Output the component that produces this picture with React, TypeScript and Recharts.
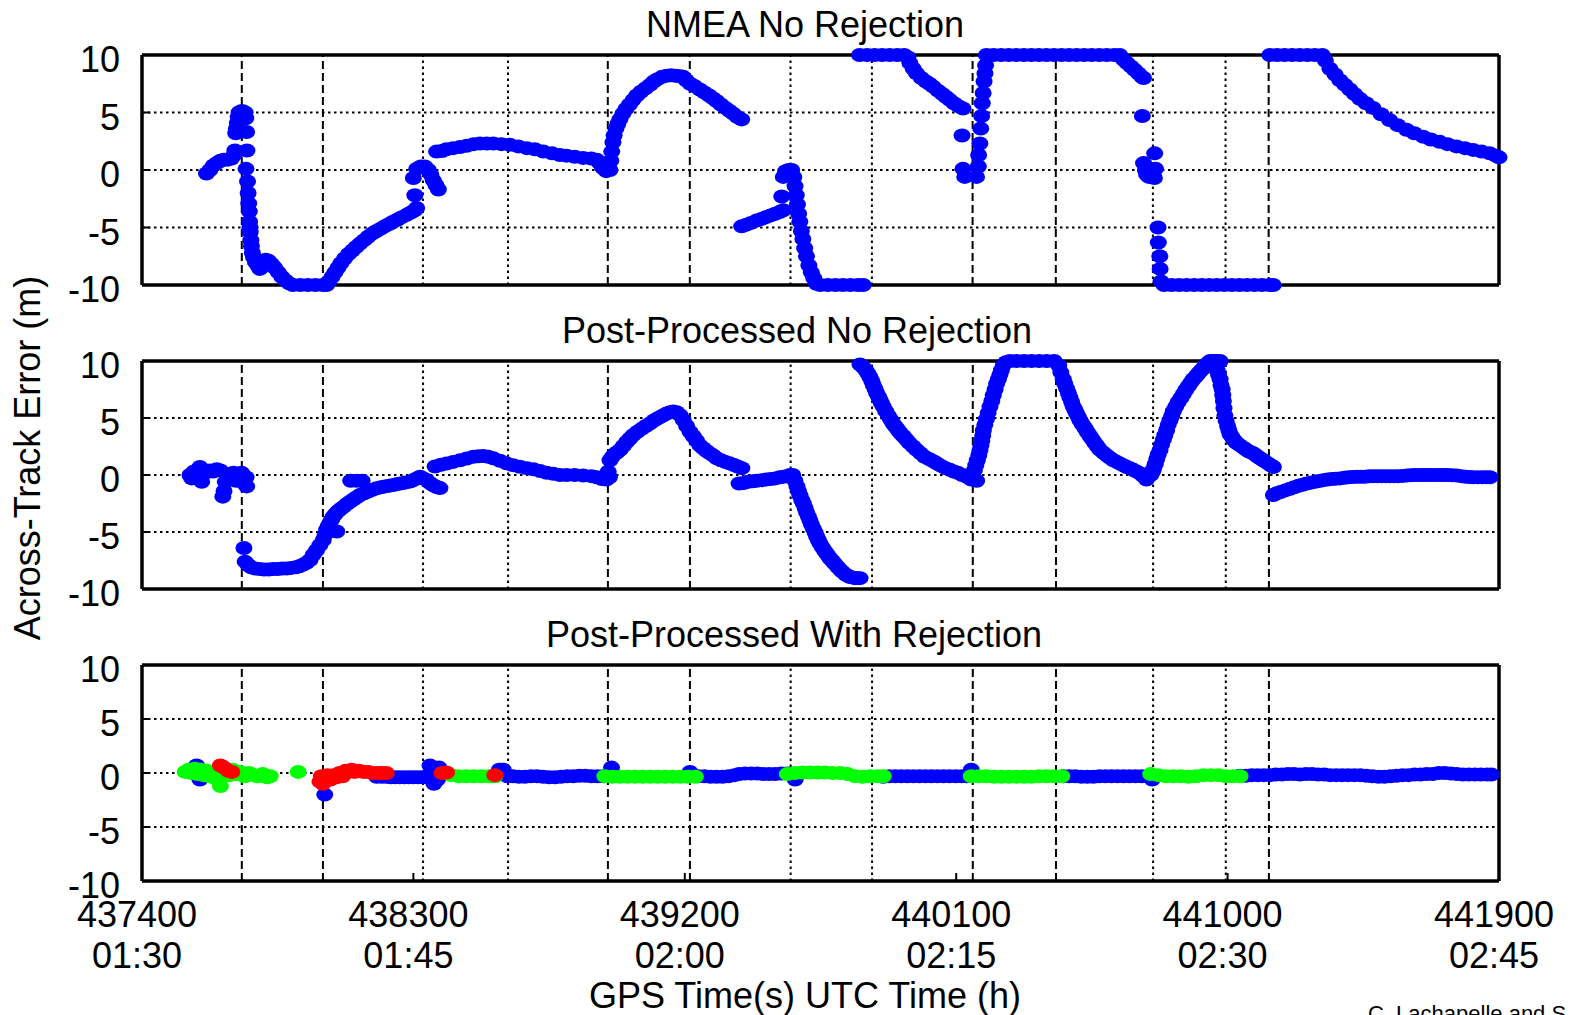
import React from "react";
import { ScatterChart, Scatter, XAxis, YAxis, CartesianGrid, ReferenceLine } from "recharts";

const FONT = "'Liberation Sans', Arial, Helvetica, sans-serif";

// x axis: GPS time of week (s) with UTC time underneath
const gpsTicks = [437400, 438300, 439200, 440100, 441000, 441900];
const utcLabels = ["01:30", "01:45", "02:00", "02:15", "02:30", "02:45"];
const errTicks = [-10, -5, 0, 5, 10];

// section boundaries (vertical lines on every panel)
const dashedMarks = [437731, 438000, 438945, 439217, 440155, 440431, 441137];
const dottedMarks = [438332, 438614, 439551, 439821, 440753, 440994];

type Pt = [number, number];

// NMEA No Rejection (blue)
const nmeaPts: Pt[] = [
  [437614,-0.3],[437625,0.0],[437637,0.4],[437648,0.6],[437660,0.8],[437672,0.9],[437685,0.9],[437697,1.0],[437705,1.3],[437708,1.7],
  [437711,3.2],[437713,3.6],[437716,4.1],[437719,4.6],[437722,5.0],[437728,5.1],[437735,5.1],[437742,5.0],[437744,4.5],[437747,3.3],
  [437748,1.7],[437745,0.1],[437750,-1.0],[437752,-2.0],[437754,-2.9],[437756,-3.6],[437757,-4.5],[437758,-5.0],[437759,-5.4],[437761,-6.1],
  [437763,-6.6],[437766,-7.2],[437770,-7.6],[437776,-8.0],[437784,-8.3],[437791,-8.6],[437800,-8.2],[437810,-7.8],[437820,-7.9],[437830,-8.2],
  [437840,-8.5],[437852,-8.9],[437864,-9.3],[437876,-9.6],[437888,-9.85],[437900,-10],[437925,-10],[437950,-10],[437975,-10],[438000,-10],
  [438012,-10],[438020,-9.7],[438030,-9.3],[438040,-8.9],[438050,-8.5],[438060,-8.1],[438072,-7.7],[438085,-7.3],[438098,-7.0],[438110,-6.7],
  [438123,-6.4],[438137,-6.1],[438150,-5.8],[438165,-5.5],[438178,-5.3],[438192,-5.1],[438205,-4.9],[438220,-4.7],[438233,-4.5],[438248,-4.3],
  [438262,-4.1],[438278,-3.9],[438292,-3.7],[438305,-3.5],[438311,-3.3],
  [438305,-2.2],[438300,-0.7],[438311,0.1],[438325,0.3],[438338,0.3],[438350,0.0],[438358,-0.4],[438366,-0.9],[438375,-1.3],[438383,-1.7],
  [438377,1.6],[438395,1.65],[438410,1.8],[438432,1.9],[438455,2.0],[438477,2.1],[438500,2.25],[438521,2.3],[438543,2.3],[438565,2.3],
  [438592,2.25],[438620,2.2],[438648,2.05],[438676,1.9],[438703,1.8],[438731,1.6],[438760,1.45],[438786,1.3],[438808,1.25],[438835,1.15],
  [438863,1.05],[438890,1.0],[438908,0.9],[438918,0.6],[438928,0.2],[438940,-0.1],[438952,0.0],
  [438955,0.8],[438958,1.6],[438962,2.4],[438966,3.0],[438972,3.6],[438978,4.0],[438985,4.4],[438995,4.9],[439005,5.3],[439017,5.7],
  [439029,6.1],[439042,6.5],[439055,6.8],[439070,7.1],[439085,7.4],[439098,7.7],[439110,7.9],[439125,8.1],[439140,8.2],[439155,8.25],
  [439170,8.2],[439185,8.15],[439195,8.1],[439205,7.8],[439218,7.5],[439232,7.3],[439250,7.0],[439265,6.75],[439280,6.5],[439293,6.25],
  [439306,6.0],[439320,5.7],[439335,5.4],[439348,5.15],[439361,4.9],[439375,4.6],[439389,4.4],
  [439389,-4.9],[439405,-4.75],[439420,-4.6],[439438,-4.4],[439455,-4.25],[439470,-4.1],[439485,-3.95],[439500,-3.8],[439515,-3.65],[439527,-3.5],
  [439522,-2.3],[439527,-0.6],[439535,-0.1],[439545,0.0],[439555,0.0],
  [439562,-0.6],[439566,-1.4],[439570,-2.2],[439574,-3.0],[439578,-3.8],[439582,-4.5],[439587,-5.3],[439592,-6.0],[439598,-6.8],[439604,-7.5],
  [439612,-8.3],[439620,-8.9],[439628,-9.4],[439637,-9.9],[439650,-10],[439675,-10],[439700,-10],[439725,-10],[439750,-10],[439775,-10],[439792,-10],
  [439780,10],[439805,10],[439830,10],[439855,10],[439880,10],[439905,10],[439928,10],[439940,9.8],
  [439947,9.3],[439958,8.8],[439969,8.4],[439985,8.0],[440000,7.7],[440012,7.5],[440024,7.25],[440040,6.9],[440055,6.6],[440067,6.35],
  [440079,6.1],[440093,5.8],[440108,5.55],[440123,5.35],
  [440120,3.0],[440123,0.1],[440129,-0.6],[440168,-0.6],[440174,0.3],[440175,1.3],[440179,2.3],[440182,3.6],[440185,4.7],[440187,5.8],
  [440190,6.7],[440193,7.7],[440196,8.4],[440198,9.1],[440201,10],
  [440225,10],[440250,10],[440275,10],[440300,10],[440325,10],[440350,10],[440375,10],[440400,10],[440425,10],[440450,10],
  [440475,10],[440500,10],[440525,10],[440550,10],[440575,10],[440600,10],[440625,10],[440643,10],
  [440655,9.6],[440667,9.3],[440680,9.0],[440693,8.7],[440705,8.4],[440716,8.1],[440722,8.0],
  [440718,4.7],[440722,0.6],[440728,0.0],[440732,-0.4],[440740,-0.6],[440759,1.45],[440762,0.1],[440758,-0.7],
  [440770,-5.0],[440771,-6.3],[440776,-7.5],[440777,-8.6],[440780,-9.7],
  [440790,-10],[440815,-10],[440840,-10],[440865,-10],[440890,-10],[440915,-10],[440940,-10],[440965,-10],[440990,-10],[441015,-10],
  [441040,-10],[441065,-10],[441090,-10],[441115,-10],[441140,-10],[441152,-10],
  [441141,10],[441165,10],[441190,10],[441215,10],[441240,10],[441265,10],[441290,10],[441315,10],
  [441325,9.5],[441340,8.8],[441357,8.3],[441373,7.8],[441390,7.4],[441406,7.0],[441422,6.6],[441439,6.2],[441460,5.8],[441483,5.4],
  [441510,4.85],[441538,4.35],[441565,3.9],[441594,3.5],[441620,3.2],[441649,2.9],[441675,2.65],[441704,2.45],[441730,2.25],[441760,2.05],
  [441788,1.9],[441815,1.75],[441843,1.6],[441870,1.45],[441890,1.25],[441901,1.1],
];

// Post-Processed No Rejection (blue)
const ppPts: Pt[] = [
  [437559,0.0],[437565,-0.3],[437572,0.3],[437580,-0.2],[437592,0.7],[437598,-0.6],[437605,0.1],[437615,0.3],[437625,0.4],[437636,0.3],
  [437648,0.5],[437660,0.4],[437668,-1.9],[437672,-1.4],[437676,-0.6],[437685,-0.2],[437695,0.1],[437703,0.2],[437712,-0.5],[437722,-0.2],
  [437730,0.2],[437738,-0.7],[437745,-0.2],[437747,-1.0],
  [437738,-6.4],
  [437742,-7.6],[437752,-7.9],[437762,-8.1],[437775,-8.2],[437790,-8.25],[437805,-8.3],[437820,-8.3],[437835,-8.25],[437850,-8.25],[437865,-8.2],
  [437880,-8.2],[437895,-8.15],[437910,-8.1],[437922,-8.0],[437935,-7.85],[437946,-7.7],[437957,-7.45],[437968,-7.0],[437979,-6.6],[437990,-6.15],
  [438001,-5.7],[438007,-5.25],[438012,-4.8],[438018,-4.5],[438023,-4.2],[438029,-3.9],[438034,-3.65],[438042,-3.4],[438051,-3.15],[438060,-2.95],
  [438068,-2.8],[438079,-2.55],[438090,-2.35],[438101,-2.15],[438112,-1.95],[438123,-1.75],[438137,-1.6],[438150,-1.45],[438164,-1.3],[438178,-1.17],
  [438192,-1.08],[438205,-1.0],[438219,-0.94],[438233,-0.88],[438247,-0.8],[438261,-0.72],[438275,-0.65],[438289,-0.58],[438300,-0.45],[438311,-0.3],
  [438322,-0.15],[438046,-4.95],[438092,-0.5],[438112,-0.5],[438130,-0.5],
  [438333,-0.3],[438344,-0.45],[438355,-0.7],[438366,-0.9],[438377,-1.05],[438388,-1.15],
  [438372,0.75],[438391,0.9],[438410,1.0],[438432,1.15],[438455,1.3],[438477,1.45],[438499,1.6],[438516,1.65],[438532,1.67],[438548,1.6],
  [438565,1.46],[438587,1.25],[438609,1.02],[438631,0.85],[438653,0.73],[438676,0.6],[438698,0.5],[438720,0.35],[438742,0.2],[438764,0.1],
  [438786,0.0],[438808,0.0],[438835,0.0],[438863,-0.05],[438890,-0.1],[438908,-0.2],[438925,-0.35],[438940,-0.4],[438950,-0.2],
  [438946,0.3],[438952,1.3],[438960,1.6],[438968,1.85],[438976,2.0],[438985,2.2],[438996,2.55],[439007,2.9],[439018,3.2],[439029,3.5],
  [439043,3.8],[439057,4.05],[439071,4.3],[439085,4.53],[439099,4.8],[439112,5.0],[439126,5.2],[439140,5.4],[439151,5.5],[439162,5.56],
  [439173,5.5],[439184,5.25],[439195,4.82],[439206,4.3],[439217,3.8],[439228,3.4],[439239,3.0],[439250,2.6],[439261,2.35],[439272,2.1],
  [439283,1.9],[439295,1.7],[439306,1.46],[439320,1.3],[439334,1.15],[439348,1.02],[439361,0.9],[439375,0.75],[439389,0.6],
  [439380,-0.75],[439395,-0.7],[439410,-0.6],[439425,-0.55],[439438,-0.5],[439455,-0.45],[439470,-0.4],[439485,-0.35],[439500,-0.3],[439515,-0.2],
  [439527,-0.15],[439540,-0.1],[439549,0.0],[439558,0.0],
  [439565,-0.5],[439572,-1.0],[439577,-1.4],[439582,-1.8],[439588,-2.2],[439593,-2.5],[439599,-2.9],[439604,-3.3],[439610,-3.65],[439615,-4.0],
  [439620,-4.35],[439626,-4.7],[439632,-5.05],[439637,-5.4],[439643,-5.7],[439648,-6.0],[439656,-6.35],[439665,-6.7],[439673,-7.0],[439681,-7.3],
  [439690,-7.55],[439698,-7.8],[439706,-8.05],[439715,-8.3],[439723,-8.5],[439732,-8.7],[439740,-8.85],[439748,-8.95],[439757,-9.0],[439765,-9.05],
  [439773,-9.05],[439781,-9.05],
  [439781,9.7],[439790,9.5],[439800,9.2],[439807,8.9],[439814,8.6],[439820,8.25],[439825,7.9],[439831,7.55],[439836,7.2],[439842,6.9],
  [439847,6.6],[439852,6.3],[439858,6.0],[439866,5.6],[439875,5.2],[439883,4.85],[439891,4.5],[439900,4.2],[439908,3.9],[439916,3.65],
  [439925,3.4],[439935,3.1],[439945,2.8],[439957,2.5],[439969,2.2],[439982,1.9],[439995,1.6],[440010,1.4],[440024,1.2],[440037,1.0],
  [440050,0.8],[440065,0.6],[440079,0.45],[440092,0.3],[440105,0.2],[440120,0.0],[440135,-0.15],[440150,-0.4],[440168,-0.5],
  [440160,0.4],[440165,0.85],[440170,1.3],[440175,1.75],[440179,2.2],[440182,2.6],[440185,3.0],[440188,3.45],[440190,3.9],[440195,4.4],
  [440200,4.9],[440206,5.45],[440212,6.0],[440218,6.5],[440223,7.0],[440229,7.5],[440234,8.0],[440240,8.4],[440245,8.8],[440250,9.2],
  [440256,9.65],[440265,9.9],[440278,10],[440300,10],[440325,10],[440350,10],[440375,10],[440400,10],[440425,10],[440440,9.6],
  [440447,9.0],[440455,8.4],[440460,8.0],[440466,7.6],[440472,7.2],[440477,6.8],[440483,6.4],[440488,6.0],[440494,5.7],[440499,5.4],
  [440505,5.1],[440510,4.8],[440518,4.45],[440527,4.1],[440535,3.75],[440544,3.4],[440552,3.1],[440560,2.8],[440568,2.5],[440577,2.2],
  [440588,1.95],[440600,1.7],[440610,1.5],[440621,1.3],[440632,1.15],[440643,1.0],[440654,0.85],[440665,0.7],[440676,0.6],[440687,0.45],
  [440698,0.3],[440709,0.15],[440720,-0.1],[440731,-0.4],
  [440745,0.0],[440750,0.25],[440754,0.5],[440760,0.95],[440765,1.4],[440770,1.8],[440776,2.2],[440781,2.65],[440787,3.1],[440792,3.5],
  [440798,3.95],[440803,4.4],[440809,4.8],[440815,5.2],[440820,5.6],[440828,6.0],[440836,6.4],[440845,6.75],[440853,7.1],[440861,7.45],
  [440870,7.8],[440878,8.1],[440886,8.4],[440895,8.65],[440903,8.9],[440911,9.15],[440919,9.35],[440925,9.55],[440930,9.7],[440936,9.85],
  [440942,10],[440950,10],[440958,10],[440966,10],[440975,10],
  [440965,9.2],[440970,8.8],[440975,8.4],[440978,7.9],[440982,7.5],[440984,7.0],[440986,6.5],[440988,5.85],[440991,5.2],[440995,4.75],
  [441000,4.3],[441004,3.95],[441008,3.6],[441014,3.35],[441020,3.1],[441025,2.95],[441030,2.8],[441041,2.6],[441052,2.4],[441060,2.25],
  [441068,2.1],[441077,2.0],[441085,1.9],[441093,1.75],[441100,1.6],[441109,1.45],[441118,1.3],[441126,1.15],[441135,1.0],[441143,0.85],
  [441152,0.7],
  [441152,-1.75],[441163,-1.6],[441175,-1.5],[441191,-1.35],[441207,-1.2],[441221,-1.07],[441235,-0.95],[441248,-0.85],[441262,-0.75],[441276,-0.67],
  [441290,-0.6],[441303,-0.52],[441317,-0.45],[441331,-0.4],[441345,-0.35],[441359,-0.32],[441373,-0.3],[441387,-0.25],[441400,-0.2],[441414,-0.18],
  [441428,-0.15],[441441,-0.15],[441455,-0.15],[441469,-0.12],[441483,-0.1],[441497,-0.1],[441510,-0.1],[441524,-0.1],[441538,-0.1],[441552,-0.1],
  [441565,-0.1],[441580,-0.08],[441594,-0.05],[441607,-0.02],[441620,0],[441635,0],[441649,0],[441662,0],[441675,0],[441690,0],
  [441704,0],[441717,0],[441730,0],[441745,-0.02],[441760,-0.05],[441775,-0.1],[441790,-0.15],[441803,-0.18],[441815,-0.2],[441830,-0.2],
  [441845,-0.2],[441858,-0.2],[441870,-0.2],
];

// Post-Processed With Rejection: accepted (blue)
const rejBlue: Pt[] = [
  [437581,0.7],[437592,-0.6],[438006,-2.0],
  [438178,-0.35],[438195,-0.35],[438210,-0.35],[438225,-0.4],[438240,-0.4],[438255,-0.4],[438270,-0.4],[438285,-0.4],[438300,-0.4],[438315,-0.4],
  [438330,-0.4],[438345,-0.4],[438355,0.7],[438360,0.2],[438368,-1.0],[438380,-0.6],[438385,0.5],
  [438585,0.3],[438598,0.3],[438612,-0.3],[438630,-0.3],[438650,-0.35],[438670,-0.35],[438690,-0.3],[438710,-0.3],[438730,-0.35],[438750,-0.4],
  [438770,-0.4],[438790,-0.35],[438810,-0.3],[438830,-0.3],[438850,-0.25],[438870,-0.25],[438890,-0.3],[438910,-0.3],[438930,-0.3],
  [438957,0.5],[439217,0.1],
  [439245,-0.3],[439265,-0.3],[439285,-0.35],[439305,-0.35],[439325,-0.35],[439345,-0.3],[439365,-0.2],[439380,-0.1],[439400,-0.05],[439420,-0.05],
  [439440,-0.05],[439460,-0.1],[439480,-0.1],[439500,-0.1],[439520,-0.05],[439540,-0.05],[439566,-0.6],
  [439858,-0.35],[439878,-0.3],[439898,-0.3],[439918,-0.3],[439938,-0.3],[439958,-0.3],[439978,-0.3],[439998,-0.3],[440018,-0.3],[440038,-0.3],
  [440058,-0.3],[440078,-0.3],[440098,-0.3],[440118,-0.3],[440135,-0.3],[440150,0.3],
  [440455,-0.3],[440475,-0.3],[440495,-0.3],[440515,-0.35],[440535,-0.35],[440555,-0.35],[440575,-0.3],[440595,-0.3],[440615,-0.3],[440635,-0.3],
  [440655,-0.3],[440675,-0.3],[440695,-0.3],[440715,-0.3],[440735,-0.3],[440750,-0.6],
  [441041,-0.25],[441060,-0.25],[441080,-0.2],[441100,-0.2],[441120,-0.2],[441140,-0.2],[441160,-0.15],[441180,-0.15],[441200,-0.1],[441220,-0.1],
  [441240,-0.15],[441260,-0.1],[441280,-0.1],[441300,-0.15],[441320,-0.15],[441340,-0.2],[441360,-0.2],[441380,-0.2],[441400,-0.2],[441420,-0.2],
  [441440,-0.2],[441460,-0.25],[441480,-0.3],[441500,-0.35],[441520,-0.35],[441540,-0.3],[441560,-0.25],[441580,-0.2],[441600,-0.2],[441620,-0.15],
  [441640,-0.15],[441660,-0.1],[441680,-0.1],[441700,0.0],[441720,0.0],[441740,-0.05],[441760,-0.1],[441780,-0.15],[441800,-0.15],[441820,-0.15],
  [441840,-0.15],[441860,-0.15],[441875,-0.15],
];

// Post-Processed With Rejection: green
const rejGreen: Pt[] = [
  [437543,0.1],[437555,0.3],[437565,0.0],[437575,0.4],[437585,-0.1],[437595,0.3],[437605,-0.2],[437615,0.2],[437625,-0.3],[437635,0.1],
  [437645,-0.5],[437660,-1.2],[437665,-0.3],[437675,0.2],[437690,-0.2],[437700,0.3],[437712,-0.1],[437725,0.1],[437740,-0.3],[437755,0.0],
  [437770,-0.2],[437785,-0.3],[437800,-0.1],[437815,-0.4],[437825,-0.3],
  [437918,0.1],
  [438425,-0.2],[438450,-0.3],[438475,-0.3],[438500,-0.3],[438525,-0.3],[438550,-0.3],[438570,-0.3],
  [438935,-0.3],[438960,-0.35],[438985,-0.35],[439010,-0.35],[439035,-0.35],[439060,-0.35],[439085,-0.35],[439110,-0.35],[439135,-0.35],[439160,-0.35],
  [439185,-0.35],[439210,-0.35],[439235,-0.35],
  [439540,-0.1],[439565,0.0],[439590,0.05],[439615,0.05],[439640,0.05],[439665,0.05],[439690,0.0],[439715,0.0],[439740,-0.1],[439765,-0.3],
  [439790,-0.35],[439815,-0.3],[439840,-0.3],[439858,-0.3],
  [440150,-0.3],[440175,-0.3],[440200,-0.3],[440225,-0.35],[440250,-0.35],[440275,-0.35],[440300,-0.35],[440325,-0.35],[440350,-0.35],[440375,-0.3],
  [440400,-0.3],[440425,-0.3],[440450,-0.3],
  [440745,-0.1],[440770,-0.2],[440795,-0.3],[440820,-0.3],[440845,-0.3],[440870,-0.35],[440895,-0.3],[440920,-0.2],[440945,-0.2],[440970,-0.2],
  [440995,-0.3],[441020,-0.3],[441041,-0.3],
];

// Post-Processed With Rejection: red
const rejRed: Pt[] = [
  [437660,0.7],[437672,0.5],[437686,0.2],[437698,0.1],
  [437990,-0.8],[437995,-0.3],[438000,-1.0],[438005,-0.5],[438015,-0.2],[438025,-0.6],[438035,-0.2],[438045,-0.4],[438055,0.0],[438065,-0.3],
  [438075,0.2],[438085,0.1],[438095,0.3],[438105,0.1],[438120,0.2],[438135,0.1],[438150,0.1],[438165,0.0],[438180,0.0],[438195,0.0],[438210,0.0],
  [438395,0.0],[438410,0.05],
  [438570,-0.2],
];

const toXY = (pts: Pt[]) => pts.map(([t, e]) => ({ t, e }));

const dot = (fill: string) => (props: any) =>
  <ellipse cx={props.cx} cy={props.cy} rx={8.5} ry={7} fill={fill} />;

const YTick = (props: any) => (
  <text x={120} y={props.y + 17} textAnchor="end" fontSize={36} fontFamily={FONT} fill="#000">
    {props.payload.value}
  </text>
);

const axisStyle = { stroke: "#000", strokeWidth: 3.5 };
const tickStyle = { stroke: "#000", strokeWidth: 2 };

interface Series { pts: Pt[]; color: string }

function Panel({ top, height, plotTop, plotBottom, series, labels }: {
  top: number; height: number; plotTop: number; plotBottom: number; series: Series[]; labels?: boolean;
}) {
  const XTick = (p: any) => (
    <g>
      <text x={p.x - 5} y={plotBottom + 46} textAnchor="middle" fontSize={36} fontFamily={FONT} fill="#000">
        {p.payload.value}
      </text>
      <text x={p.x - 5} y={plotBottom + 87} textAnchor="middle" fontSize={36} fontFamily={FONT} fill="#000">
        {utcLabels[gpsTicks.indexOf(p.payload.value)]}
      </text>
    </g>
  );
  return (
    <div style={{ position: "absolute", left: 0, top }}>
      <ScatterChart width={1579} height={height} margin={{ top: plotTop - 1, right: 79, bottom: 0, left: 0 }}>
        <CartesianGrid vertical={false} stroke="#000" strokeWidth={2} strokeDasharray="2.5 3.5" />
        <XAxis xAxisId="top" orientation="top" type="number" dataKey="t" domain={[437400, 441900]} ticks={gpsTicks}
          height={1} tick={false} tickSize={-8} axisLine={axisStyle} tickLine={tickStyle} />
        <XAxis type="number" dataKey="t" domain={[437400, 441900]} ticks={gpsTicks} height={height - plotBottom}
          tickSize={-8} tick={labels ? XTick : false} axisLine={axisStyle} tickLine={tickStyle} />
        <YAxis type="number" dataKey="e" domain={[-10, 10]} ticks={errTicks} width={142} tickSize={-8}
          tick={YTick} axisLine={axisStyle} tickLine={tickStyle} />
        <YAxis yAxisId="right" orientation="right" type="number" dataKey="e" domain={[-10, 10]} ticks={errTicks}
          width={1} tickSize={-8} tick={false} axisLine={axisStyle} tickLine={tickStyle} />
        {series.map((s, i) => (
          <Scatter key={i} data={toXY(s.pts)} fill={s.color} shape={dot(s.color)} isAnimationActive={false} />
        ))}
        {dashedMarks.map((x) => (
          <ReferenceLine key={"d" + x} x={x} stroke="#000" strokeWidth={2} strokeDasharray="8 4" />
        ))}
        {dottedMarks.map((x) => (
          <ReferenceLine key={"o" + x} x={x} stroke="#000" strokeWidth={2} strokeDasharray="2.5 3.5" />
        ))}
      </ScatterChart>
    </div>
  );
}

export default function App() {
  const txt = { fontSize: 36, fontFamily: FONT, fill: "#000" };
  return (
    <div style={{ position: "absolute", left: 0, top: 0, width: 1579, height: 1015, overflow: "hidden", background: "#fff" }}>
      <style>{".recharts-wrapper svg, .recharts-surface { overflow: visible; }"}</style>
      <Panel top={0} height={300} plotTop={55} plotBottom={285} series={[{ pts: nmeaPts, color: "#0000ff" }]} />
      <Panel top={300} height={300} plotTop={61} plotBottom={289} series={[{ pts: ppPts, color: "#0000ff" }]} />
      <Panel top={600} height={415} plotTop={65} plotBottom={281} labels
        series={[
          { pts: rejBlue, color: "#0000ff" },
          { pts: rejGreen, color: "#00ff00" },
          { pts: rejRed, color: "#ff0000" },
        ]} />
      <svg width={1579} height={1015} style={{ position: "absolute", left: 0, top: 0, pointerEvents: "none" }}>
        <text x={805} y={37} textAnchor="middle" {...txt}>NMEA No Rejection</text>
        <text x={797} y={343} textAnchor="middle" {...txt}>Post-Processed No Rejection</text>
        <text x={794} y={647} textAnchor="middle" {...txt}>Post-Processed With Rejection</text>
        <text transform="translate(40,458) rotate(-90)" textAnchor="middle" {...txt}>Across-Track Error (m)</text>
        <text x={805} y={1008} textAnchor="middle" {...txt}>GPS Time(s) UTC Time (h)</text>
        <text x={1368} y={1021} fontSize={22} fontFamily={FONT} fill="#000">C. Lachapelle and S. Ryan</text>
      </svg>
    </div>
  );
}
